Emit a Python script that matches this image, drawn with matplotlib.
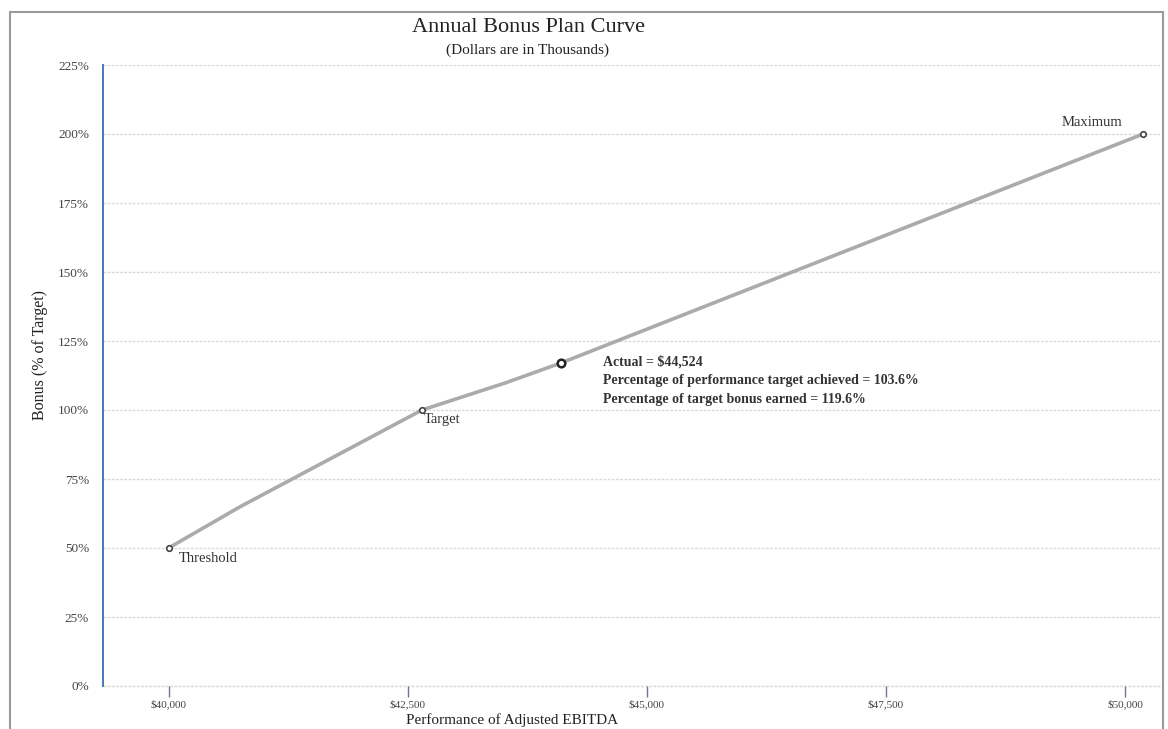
import matplotlib
matplotlib.use("Agg")
import matplotlib.pyplot as plt
from matplotlib.patches import Rectangle

plt.rcParams['font.family'] = ['Liberation Serif', 'DejaVu Serif']

# curve points (EBITDA in $ thousands, bonus % of target)
curve_x = [40000, 40750, 42650, 43520, 44100, 50190]
curve_y = [50, 65.0, 100, 109.8, 117.0, 200]

# labelled points
key_names = ["Threshold", "Target", "Maximum"]
key_x = [40000, 42650, 50190]
key_y = [50, 100, 200]

actual_x = 44100
actual_y = 117.0
actual_lines = ["Actual = $44,524",
                "Percentage of performance target achieved = 103.6%",
                "Percentage of target bonus earned = 119.6%"]

x_ticks = [40000, 42500, 45000, 47500, 50000]
x_ticklabels = ["$40,000", "$42,500", "$45,000", "$47,500", "$50,000"]
y_ticks = [0, 25, 50, 75, 100, 125, 150, 175, 200, 225]
y_ticklabels = [f"{v}%" for v in y_ticks]

fig = plt.figure(figsize=(11.68, 7.29), dpi=100)
ax = fig.add_axes([103/1168, 1 - 686/729, (1160 - 103)/1168, (686 - 65)/729])

# outer frame
fig.patches.append(Rectangle((9.5/1168, -0.05), (1163 - 9.5)/1168, 1.05 - 11.5/729,
                             transform=fig.transFigure, fill=False,
                             edgecolor='#9a9a9a', lw=1.5, zorder=0))

ax.plot(curve_x, curve_y, color='#ababab', lw=2.6, solid_capstyle='round', zorder=3)
ax.plot(key_x, key_y, 'o', ms=4, mfc='white', mec='#444444', mew=1.2, zorder=4)
ax.plot([actual_x], [actual_y], 'o', ms=5.5, mfc='white', mec='#222222', mew=1.8, zorder=5)

offsets = {"Threshold": (10, -11, 'left'), "Target": (2, -9, 'left'), "Maximum": (-21, 12, 'right')}
for name, x, y in zip(key_names, key_x, key_y):
    dx, dy, ha = offsets[name]
    ax.annotate(name, (x, y), xytext=(dx, dy), textcoords='offset pixels',
                ha=ha, va='center', fontsize=10.5, color='#333333')

for i, line in enumerate(actual_lines):
    ax.annotate(line, (actual_x, actual_y), xytext=(42, 1 - i * 18.5), textcoords='offset pixels',
                ha='left', va='center', fontsize=10, fontweight='bold', color='#333333')

ax.set_xlim(39314, 50366)
ax.set_ylim(0, 225)
ax.set_xticks(x_ticks)
ax.set_xticklabels(x_ticklabels, fontsize=8, color='#444444')
ax.set_yticks(y_ticks)
ax.set_yticklabels(y_ticklabels, fontsize=9.5, color='#444444')
ax.tick_params(axis='x', length=8, width=1, color='#7a6f99', pad=2, direction='out')
ax.tick_params(axis='y', length=0, pad=10)

ax.grid(axis='y', linestyle=(0, (2, 1)), color='#dadada', lw=1)
ax.axhline(0, linestyle=(0, (2, 1)), color='#dadada', lw=1, clip_on=False, zorder=0)
ax.set_axisbelow(True)
for s in ['top', 'right', 'bottom']:
    ax.spines[s].set_visible(False)
ax.spines['left'].set_color('#4a77b4')
ax.spines['left'].set_linewidth(1.4)

fig.text(529/1168, 1 - 27/729, "Annual Bonus Plan Curve", ha='center', va='center',
         fontsize=16, color='#222222')
fig.text(528/1168, 1 - 50/729, "(Dollars are in Thousands)", ha='center', va='center',
         fontsize=11, color='#222222')
fig.text(512/1168, 1 - 720/729, "Performance of Adjusted EBITDA", ha='center', va='center',
         fontsize=11, color='#222222')
fig.text(40/1168, 1 - 355/729, "Bonus (% of Target)", ha='center', va='center',
         rotation=90, fontsize=11.5, color='#222222')

fig.savefig("out.png", dpi=100)
